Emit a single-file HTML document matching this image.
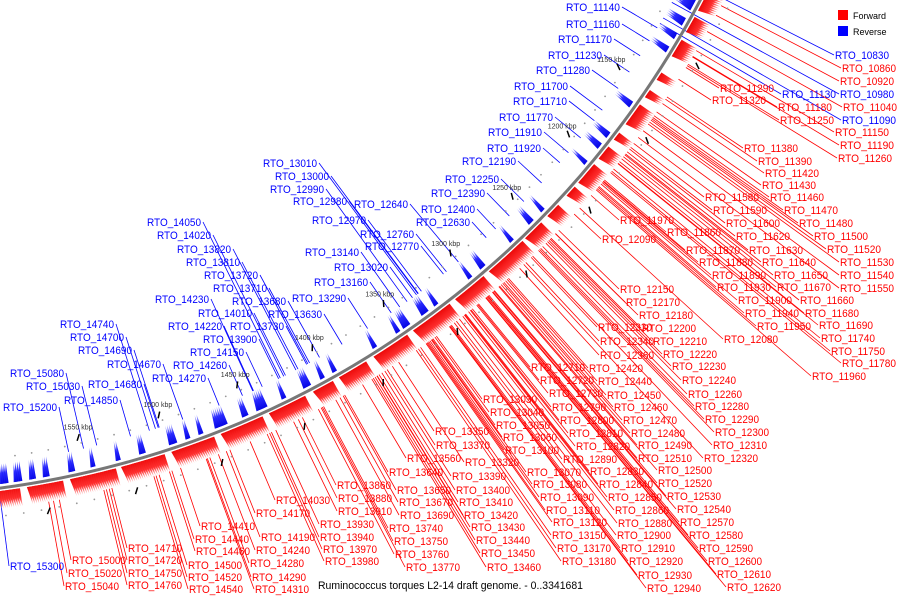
<!DOCTYPE html>
<html><head><meta charset="utf-8"><style>
body{margin:0;background:#fff}
svg{display:block}
text{font-family:"Liberation Sans",sans-serif}
</style></head><body>
<svg id="map" width="900" height="600" viewBox="0 0 900 600" xmlns="http://www.w3.org/2000/svg">
<defs>
<linearGradient id="gRed" x1="0" y1="0" x2="1" y2="1"><stop offset="0" stop-color="#e80000"/><stop offset="0.6" stop-color="#ff3030"/><stop offset="1" stop-color="#ffc8c8"/></linearGradient>
<linearGradient id="gBlue" x1="1" y1="1" x2="0" y2="0"><stop offset="0" stop-color="#0000e0"/><stop offset="0.6" stop-color="#2a2aff"/><stop offset="1" stop-color="#c8c8ff"/></linearGradient>
</defs>
<g id="lines"></g>
<g id="feats"></g>
<g id="labels"></g>
<g>
<rect x="838" y="10" width="10" height="10" fill="#ff0000"/>
<text x="853" y="19" font-size="9">Forward</text>
<rect x="838" y="26" width="10" height="10" fill="#0000ff"/>
<text x="853" y="35" font-size="9">Reverse</text>
</g>
<text x="318" y="589" font-size="11" textLength="265" lengthAdjust="spacingAndGlyphs">Ruminococcus torques L2-14 draft genome. - 0..3341681</text>
</svg>
<script>
const genomeLength = 3341681;
const kbpTicks = [1150,1200,1250,1300,1350,1400,1450,1500,1550];
const forwardRanges = [[1085,1098],[1103,1112],[1118,1128],[1140,1144],[1152,1156],[1162,1175],[1182,1186],[1192,1200],[1205,1218],[1222,1228],[1236,1244],[1250,1262],[1265,1290],[1295,1315],[1320,1345],[1350,1372],[1378,1395],[1400,1412],[1418,1440],[1445,1470],[1475,1500],[1505,1530],[1534,1560],[1565,1585],[1590,1612]];
const reverseRanges = [[1085,1100],[1106,1110],[1116,1119],[1125,1128],[1163,1166],[1185,1188],[1193,1196],[1206,1208],[1243,1245],[1252,1255],[1268,1270],[1290,1293],[1300,1302],[1325,1327],[1332,1336],[1345,1349],[1352,1354],[1368,1370],[1395,1397],[1403,1405],[1412,1416],[1428,1430],[1440,1446],[1452,1455],[1465,1472],[1480,1482],[1488,1490],[1496,1500],[1515,1518],[1530,1532],[1545,1547],[1557,1560],[1572,1575],[1580,1583],[1588,1592],[1596,1600]];
const reverseLabels = [["RTO_11140",566,7],["RTO_11160",566,24],["RTO_11170",558,39],["RTO_11230",548,55],["RTO_11280",536,70],["RTO_11700",514,86],["RTO_11710",513,101],["RTO_11770",499,117],["RTO_11910",488,132],["RTO_11920",487,148],["RTO_12190",462,161],["RTO_12250",445,179],["RTO_12390",431,193],["RTO_12400",421,209],["RTO_12630",416,222],["RTO_12640",354,204],["RTO_13010",263,163],["RTO_13000",275,176],["RTO_12990",270,189],["RTO_12980",293,201],["RTO_12970",312,220],["RTO_12760",360,234],["RTO_12770",365,246],["RTO_13140",305,252],["RTO_13020",334,267],["RTO_13160",314,282],["RTO_13290",292,298],["RTO_13630",268,314],["RTO_14050",147,222],["RTO_14020",157,235],["RTO_13820",177,249],["RTO_13810",186,262],["RTO_13720",204,275],["RTO_13710",213,288],["RTO_13680",232,301],["RTO_14230",155,299],["RTO_14010",198,313],["RTO_14220",168,326],["RTO_13730",230,326],["RTO_13900",203,339],["RTO_14150",190,352],["RTO_14260",173,365],["RTO_14270",152,378],["RTO_14740",60,324],["RTO_14700",70,337],["RTO_14690",78,350],["RTO_14670",107,364],["RTO_14680",88,384],["RTO_15080",10,373],["RTO_15030",26,386],["RTO_14850",64,400],["RTO_15200",3,407],["RTO_15300",10,566],["RTO_10830",835,55],["RTO_11130",782,94],["RTO_10980",840,94],["RTO_11090",842,120]];
const forwardLabels = [["RTO_10860",842,68],["RTO_10920",840,81],["RTO_11290",720,88],["RTO_11320",712,100],["RTO_11180",778,107],["RTO_11040",843,107],["RTO_11250",780,120],["RTO_11150",835,132],["RTO_11190",840,145],["RTO_11260",838,158],["RTO_11380",744,148],["RTO_11390",758,161],["RTO_11420",765,173],["RTO_11430",762,185],["RTO_11460",770,197],["RTO_11470",784,210],["RTO_11480",799,223],["RTO_11500",814,236],["RTO_11520",827,249],["RTO_11530",840,262],["RTO_11540",840,275],["RTO_11550",840,288],["RTO_11580",705,197],["RTO_11590",713,210],["RTO_11600",726,223],["RTO_11620",736,236],["RTO_11630",749,250],["RTO_11640",762,262],["RTO_11650",774,275],["RTO_11670",777,287],["RTO_11660",800,300],["RTO_11680",805,313],["RTO_11690",819,325],["RTO_11740",821,338],["RTO_11750",831,351],["RTO_11780",842,363],["RTO_11960",812,376],["RTO_11970",620,220],["RTO_12090",602,239],["RTO_11860",667,232],["RTO_11870",686,250],["RTO_11880",699,262],["RTO_11890",712,275],["RTO_11930",717,287],["RTO_11900",738,300],["RTO_11940",745,313],["RTO_11950",757,326],["RTO_12080",724,339],["RTO_12150",620,289],["RTO_12170",626,302],["RTO_12180",639,315],["RTO_12200",642,328],["RTO_12210",653,341],["RTO_12220",663,354],["RTO_12230",672,366],["RTO_12240",682,380],["RTO_12260",688,394],["RTO_12280",695,406],["RTO_12290",705,419],["RTO_12300",715,432],["RTO_12310",713,445],["RTO_12320",704,458],["RTO_12330",598,327],["RTO_12340",600,341],["RTO_12360",600,355],["RTO_12420",589,368],["RTO_12440",598,381],["RTO_12450",607,395],["RTO_12460",614,407],["RTO_12470",623,420],["RTO_12480",631,433],["RTO_12490",638,445],["RTO_12510",638,458],["RTO_12500",658,470],["RTO_12520",658,483],["RTO_12530",667,496],["RTO_12540",677,509],["RTO_12570",680,522],["RTO_12580",689,535],["RTO_12590",699,548],["RTO_12600",708,561],["RTO_12610",717,574],["RTO_12620",727,587],["RTO_12710",531,367],["RTO_12720",540,380],["RTO_12730",549,393],["RTO_12790",552,407],["RTO_12800",560,420],["RTO_12810",569,433],["RTO_12820",576,446],["RTO_12890",563,459],["RTO_12830",590,471],["RTO_12840",599,484],["RTO_12850",608,497],["RTO_12860",615,510],["RTO_12880",618,523],["RTO_12900",617,535],["RTO_12910",621,548],["RTO_12920",629,561],["RTO_12930",638,575],["RTO_12940",647,588],["RTO_13030",483,399],["RTO_13040",490,412],["RTO_13050",496,425],["RTO_13060",503,437],["RTO_13100",505,450],["RTO_13070",527,472],["RTO_13080",533,484],["RTO_13090",540,497],["RTO_13110",546,510],["RTO_13120",553,522],["RTO_13150",552,535],["RTO_13170",557,548],["RTO_13180",562,561],["RTO_13350",435,431],["RTO_13370",436,445],["RTO_13560",407,458],["RTO_13320",465,462],["RTO_13390",452,476],["RTO_13400",456,490],["RTO_13410",459,502],["RTO_13420",464,515],["RTO_13430",471,527],["RTO_13440",476,540],["RTO_13450",481,553],["RTO_13460",487,567],["RTO_13640",389,472],["RTO_13650",397,490],["RTO_13670",399,502],["RTO_13690",400,515],["RTO_13740",389,528],["RTO_13750",394,541],["RTO_13760",395,554],["RTO_13770",406,567],["RTO_13860",337,485],["RTO_13880",338,498],["RTO_13910",338,511],["RTO_13930",320,524],["RTO_13940",320,537],["RTO_13970",323,549],["RTO_13980",325,561],["RTO_14030",276,500],["RTO_14170",256,513],["RTO_14190",261,537],["RTO_14240",256,550],["RTO_14280",250,563],["RTO_14290",252,577],["RTO_14310",255,589],["RTO_14410",201,526],["RTO_14440",195,539],["RTO_14460",196,551],["RTO_14500",188,565],["RTO_14520",188,577],["RTO_14540",189,589],["RTO_14710",128,548],["RTO_14720",128,560],["RTO_14750",128,573],["RTO_14760",128,585],["RTO_15000",72,560],["RTO_15020",68,573],["RTO_15040",65,586]];

const NS="http://www.w3.org/2000/svg";
const CX=-121, CY=-432, R=928;
function ang(kbp){return (-90 + kbp*1000/genomeLength*360)*Math.PI/180;}
function pt(a,r){return [CX+r*Math.cos(a), CY+r*Math.sin(a)];}
function mk(tag,attrs,parent){const e=document.createElementNS(NS,tag);for(const k in attrs)e.setAttribute(k,attrs[k]);parent.appendChild(e);return e;}
const gF=document.getElementById('feats'), gL=document.getElementById('lines'), gT=document.getElementById('labels');
// backbone
const p0=pt(ang(1000),R),p1=pt(ang(1700),R);
const bb=mk('path',{d:`M${p0[0]},${p0[1]} A${R},${R} 0 0 1 ${p1[0]},${p1[1]}`,fill:'none',stroke:'#777','stroke-width':3},gF);


// small grey dots and black dashes
for(let k=1080;k<=1620;k+=10){
  [R-30,R+28].forEach(r=>{
    const p=pt(ang(k),r);
    const d=mk('circle',{cx:p[0],cy:p[1],r:0.9,fill:'#999'},gF);
    
    
  });
}
for(let k=1075;k<=1625;k+=25){
  const a=ang(k),r=(k%50===0)?R-36:R+30;
  const q1=pt(a,r-3),q2=pt(a+0.004,r+3);
  const d=mk('line',{x1:q1[0],y1:q1[1],x2:q2[0],y2:q2[1],stroke:'#000','stroke-width':1.5},gF);
  
  
}
function genes(s,e,rBase,rTip,fill,name){
  for(let k=s;k<e;k+=1.2){
    const ke=Math.min(k+2.6,e+1);
    const A=pt(ang(k),rBase),B=pt(ang(k),rTip),C=pt(ang(ke),rBase);
    const p=mk('path',{d:`M${A[0]},${A[1]} L${B[0]},${B[1]} L${C[0]},${C[1]} Z`,fill:fill},gF);
    
    
  }
}
forwardRanges.forEach(r=>genes(r[0],r[1],R+3,R+21,'url(#gRed)','forward-gene'));
reverseRanges.forEach(r=>genes(r[0],r[1],R-4,R-24,'url(#gBlue)','reverse-gene'));
kbpTicks.forEach(k=>{
  const p=pt(ang(k),R-46);
  const t=mk('text',{x:p[0]-14,y:p[1]+2,'font-size':7,'font-family':'Liberation Serif, serif',fill:'#333'},gT);
  t.textContent=k+' kbp';
  
  
});
function label(item,color,fwd){
  const [name,x,y]=item;
  const t=mk('text',{x:x,y:y+4,'font-size':11,fill:color,textLength:54,lengthAdjust:'spacingAndGlyphs'},gT);
  t.textContent=name;
  
  
  const outside=Math.hypot(x-CX,y-CY)>R;
  const ax=outside?x-1:x+56, ay=y;
  const a=Math.atan2(ay-CY,ax-CX);
  const e=pt(a,fwd?R+21:R-24);
  const l=mk('line',{x1:ax,y1:ay,x2:e[0],y2:e[1],stroke:color,'stroke-width':0.8},gL);
  
  
}
reverseLabels.forEach(l=>label(l,'#0000ff',false));
forwardLabels.forEach(l=>label(l,'#ff0000',true));
</script>
</body></html>
